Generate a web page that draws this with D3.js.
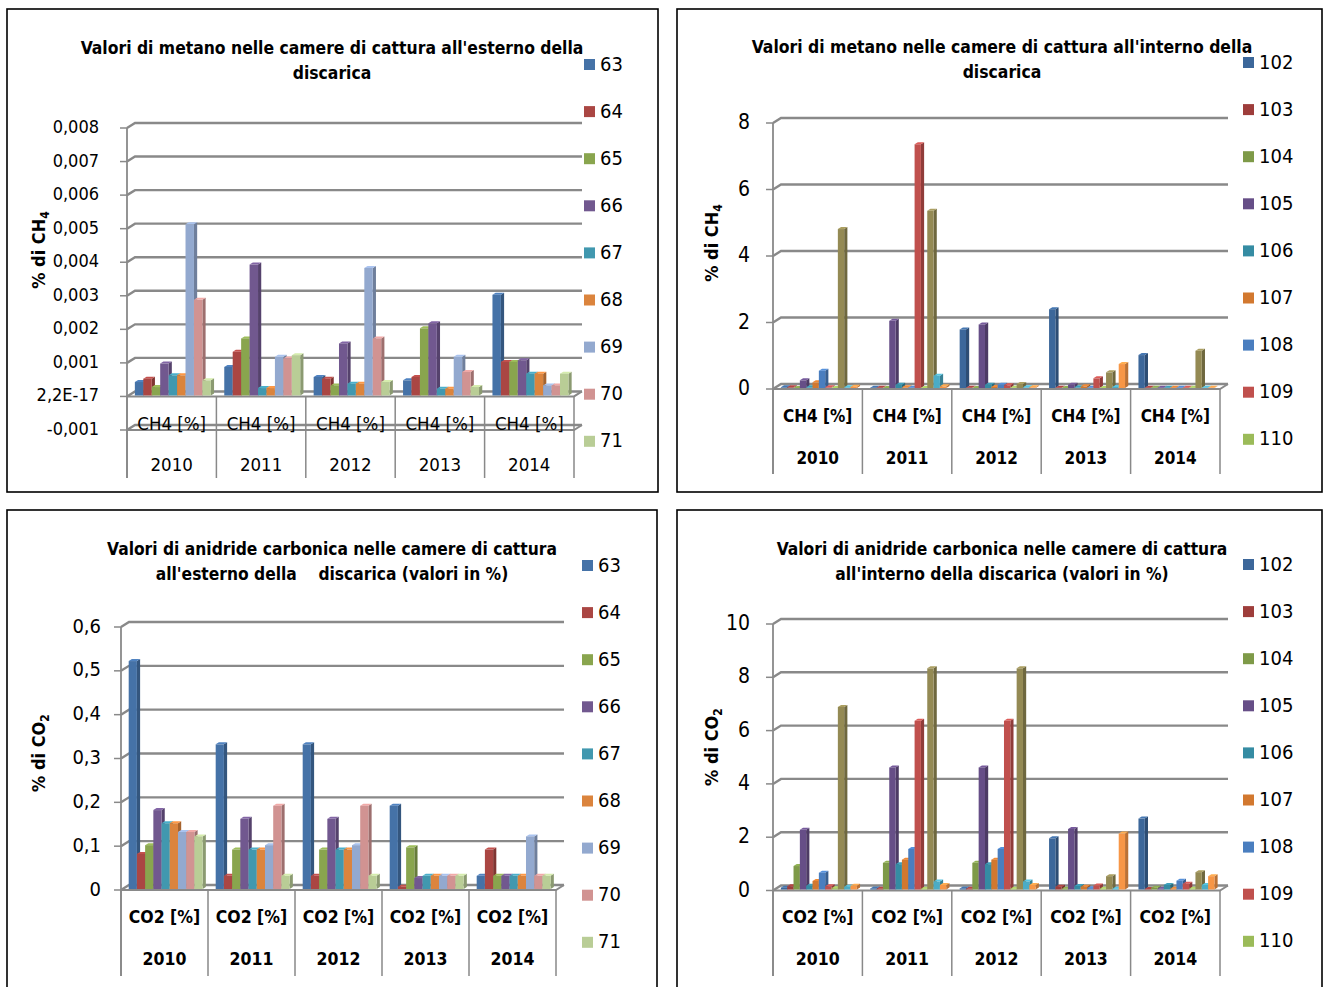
<!DOCTYPE html>
<html>
<head>
<meta charset="utf-8">
<script src="https://cdn.jsdelivr.net/npm/d3@7"></script>
<style>
  body { margin: 0; background: #fff; }
  text { font-family: "DejaVu Sans Condensed", "DejaVu Sans", sans-serif; fill: #000; }
</style>
</head>
<body>
<svg id="chart" width="1327" height="987"></svg>
<script>
// categories
const years = ["2010", "2011", "2012", "2013", "2014"];
const outerPoints = ["63", "64", "65", "66", "67", "68", "69", "70", "71"];
const innerPoints = ["102", "103", "104", "105", "106", "107", "108", "109", "110", "111", "112", "113"];

const outerColors = ["#4572a7", "#aa4643", "#89a54e", "#71588f", "#4198af", "#db843d", "#93a9cf", "#d19392", "#b9cd96"];
const innerColors = ["#3c679a", "#9e3d3b", "#7e9a48", "#664e87", "#358ca3", "#d2782f", "#4a7ebf", "#c0504d", "#9bbb59", "#948a54", "#4bacc6", "#f79646"];

// values, one row per year (series order as in the point lists)
const ch4Outer = [
  [0.0004, 0.0005, 0.00025, 0.00095, 0.0006, 0.0006, 0.0051, 0.00285, 0.00045],
  [0.00085, 0.0013, 0.0017, 0.0039, 0.00022, 0.00022, 0.00115, 0.0011, 0.0012],
  [0.00055, 0.0005, 0.0003, 0.00155, 0.00035, 0.00035, 0.0038, 0.0017, 0.0004],
  [0.00045, 0.00055, 0.002, 0.00215, 0.0002, 0.0002, 0.00115, 0.0007, 0.00025],
  [0.003, 0.001, 0.001, 0.00105, 0.00065, 0.00065, 0.0003, 0.0003, 0.00065]
];
const ch4Inner = [
  [0.02, 0.02, 0, 0.23, 0.02, 0.17, 0.52, 0.02, 0, 4.78, 0.02, 0.04],
  [0.01, 0.01, 0, 2.02, 0.1, 0.02, 0.01, 7.33, 0, 5.33, 0.37, 0.05],
  [1.76, 0.01, 0, 1.91, 0.1, 0.03, 0.1, 0.08, 0.01, 0.12, 0.02, 0.02],
  [2.37, 0.01, 0, 0.1, 0.02, 0.05, 0.01, 0.29, 0, 0.47, 0.03, 0.72],
  [0.99, 0.01, 0.01, 0.01, 0.01, 0.01, 0.01, 0.01, 0.01, 1.12, 0.01, 0.01]
];
const co2Outer = [
  [0.52, 0.08, 0.1, 0.18, 0.15, 0.15, 0.13, 0.13, 0.12],
  [0.33, 0.03, 0.09, 0.16, 0.09, 0.09, 0.1, 0.19, 0.03],
  [0.33, 0.03, 0.09, 0.16, 0.09, 0.09, 0.1, 0.19, 0.03],
  [0.19, 0.005, 0.095, 0.025, 0.03, 0.03, 0.03, 0.03, 0.03],
  [0.03, 0.09, 0.03, 0.03, 0.03, 0.03, 0.12, 0.03, 0.03]
];
const co2Inner = [
  [0.07, 0.12, 0.88, 2.24, 0.14, 0.32, 0.63, 0.12, 0.05, 6.85, 0.1, 0.14],
  [0.04, 0.03, 1.0, 4.58, 0.95, 1.12, 1.52, 6.33, 0.03, 8.3, 0.3, 0.17],
  [0.04, 0.03, 1.0, 4.58, 0.95, 1.12, 1.52, 6.33, 0.03, 8.3, 0.3, 0.17],
  [1.92, 0.1, 0.03, 2.27, 0.13, 0.1, 0.05, 0.15, 0.03, 0.5, 0.03, 2.1],
  [2.66, 0.02, 0.07, 0.03, 0.17, 0.03, 0.33, 0.22, 0.03, 0.65, 0.17, 0.5]
];

// tick values and labels
const ch4OuterTicks = [-0.001, 0, 0.001, 0.002, 0.003, 0.004, 0.005, 0.006, 0.007, 0.008];
const ch4OuterTickLabels = ["-0,001", "2,2E-17", "0,001", "0,002", "0,003", "0,004", "0,005", "0,006", "0,007", "0,008"];
const ch4InnerTicks = [0, 2, 4, 6, 8];
const ch4InnerTickLabels = ["0", "2", "4", "6", "8"];
const co2OuterTicks = [0, 0.1, 0.2, 0.3, 0.4, 0.5, 0.6];
const co2OuterTickLabels = ["0", "0,1", "0,2", "0,3", "0,4", "0,5", "0,6"];
const co2InnerTicks = [0, 2, 4, 6, 8, 10];
const co2InnerTickLabels = ["0", "2", "4", "6", "8", "10"];

const svg = d3.select("#chart");
const gridColor = "#898989";
const dx = 8, dy = 5;   // depth of the back wall

function drawPanel(p) {
  const g = svg.append("g");

  g.append("rect")
    .attr("x", p.box[0]).attr("y", p.box[1])
    .attr("width", p.box[2] - p.box[0]).attr("height", p.box[3] - p.box[1])
    .attr("fill", "#fff").attr("stroke", "#000").attr("stroke-width", 1.6);

  // title: size the first line to the width it has in the picture, reuse for line two
  const titleLines = p.title.map((line, i) => g.append("text")
    .attr("x", p.titleX).attr("y", p.titleY + i * 25)
    .attr("text-anchor", "middle").attr("dominant-baseline", "middle")
    .style("white-space", "pre")
    .attr("font-size", 18).attr("font-weight", "bold")
    .text(line));
  const fs = 18 * p.titleWidth / titleLines[0].node().getComputedTextLength();
  titleLines.forEach(t => t.attr("font-size", fs.toFixed(2)));

  const xGroup = d3.scaleBand().domain(years).range([p.x0, p.x1]);
  const gw = xGroup.bandwidth();
  const xSeries = d3.scaleBand().domain(p.names).range([gw * 0.07, gw * 0.92]);
  const ticks = p.ticks;
  const y = d3.scaleLinear()
    .domain([ticks[0], ticks[ticks.length - 1]])
    .range([p.yBottom, p.yTop]);

  // back wall gridlines + tick marks
  ticks.forEach(t => {
    g.append("path")
      .attr("d", `M${p.x0},${y(t)}L${p.x0 + dx},${y(t) - dy}L${p.x1 + dx},${y(t) - dy}`)
      .attr("fill", "none").attr("stroke", gridColor).attr("stroke-width", 2.4);
    g.append("path")
      .attr("d", `M${p.x0 - 7},${y(t)}L${p.x0},${y(t)}`)
      .attr("stroke", gridColor).attr("stroke-width", 1.5);
  });

  // tick labels
  ticks.forEach((t, i) => {
    g.append("text")
      .attr("x", p.labelRight).attr("y", y(t))
      .attr("text-anchor", "end").attr("dominant-baseline", "middle")
      .attr("font-size", p.tickSize)
      .text(p.tickLabels[i]);
  });

  // floor front edges (at 0 and at the axis minimum)
  const floors = ticks[0] < 0 ? [0, ticks[0]] : [0];
  floors.forEach(f => {
    g.append("path")
      .attr("d", `M${p.x0},${y(f)}L${p.x1},${y(f)}L${p.x1 + dx},${y(f) - dy}`)
      .attr("fill", "none").attr("stroke", gridColor).attr("stroke-width", 2);
  });

  // bars
  const fx = dx * 0.2, fy = dy * 0.2, sx = dx * 0.4, sy = dy * 0.4;
  const w = xSeries.bandwidth();
  years.forEach((yr, gi) => {
    p.names.forEach((n, si) => {
      const v = p.values[gi][si];
      const xl = xGroup(yr) + xSeries(n) + fx;
      const xr = xl + w;
      const yt = y(v) - fy;
      const yb = y(0) - fy;
      const c = d3.color(p.colors[si]);
      const bar = g.append("g");
      bar.append("polygon")
        .attr("points", [[xr, yt], [xr + sx, yt - sy], [xr + sx, yb - sy], [xr, yb]].join(" "))
        .attr("fill", c.darker(0.8));
      bar.append("polygon")
        .attr("points", [[xl, yt], [xl + sx, yt - sy], [xr + sx, yt - sy], [xr, yt]].join(" "))
        .attr("fill", c.brighter(0.4));
      bar.append("rect")
        .attr("x", xl).attr("y", yt)
        .attr("width", w).attr("height", Math.max(0, yb - yt))
        .attr("fill", c);
    });
  });

  // left axis and category separators
  g.append("path")
    .attr("d", `M${p.x0},${p.yTop}L${p.x0},${p.sepBottom}`)
    .attr("stroke", gridColor).attr("stroke-width", 1.8);
  d3.range(years.length + 1).forEach(i => {
    const xb = p.x0 + i * gw;
    g.append("path")
      .attr("d", `M${xb},${y(0)}L${xb},${p.sepBottom}`)
      .attr("stroke", gridColor).attr("stroke-width", 1.5);
  });

  // category labels
  years.forEach(yr => {
    const cx = xGroup(yr) + gw / 2;
    g.append("text")
      .attr("x", cx).attr("y", p.row1)
      .attr("text-anchor", "middle").attr("dominant-baseline", "middle")
      .attr("font-size", p.catSize).attr("font-weight", p.catBold ? "bold" : "normal")
      .text(p.catLabel);
    g.append("text")
      .attr("x", cx).attr("y", p.row2)
      .attr("text-anchor", "middle").attr("dominant-baseline", "middle")
      .attr("font-size", p.catSize).attr("font-weight", p.catBold ? "bold" : "normal")
      .text(yr);
  });

  // y axis title, rotated
  const yTitle = g.append("text")
    .attr("transform", `translate(${p.yTitleX},${p.yTitleY}) rotate(-90)`)
    .attr("text-anchor", "middle").attr("dominant-baseline", "middle")
    .attr("font-size", 18).attr("font-weight", "bold");
  yTitle.append("tspan").text(p.yTitle);
  yTitle.append("tspan").attr("font-size", 12).attr("dy", 5).text(p.yTitleSub);

  // legend (Excel cuts it off after nine entries)
  p.names.slice(0, 9).forEach((n, i) => {
    const ly = p.legendY + i * 47.1;
    g.append("rect")
      .attr("x", p.legendX).attr("y", ly - 5)
      .attr("width", 11).attr("height", 11)
      .attr("fill", p.colors[i]);
    g.append("text")
      .attr("x", p.legendX + 16).attr("y", ly + 1)
      .attr("dominant-baseline", "middle")
      .attr("font-size", 20)
      .text(n);
  });
}

drawPanel({
  box: [7, 9, 658, 492],
  title: ["Valori di metano nelle camere di cattura all'esterno della", "discarica"],
  titleX: 332, titleY: 49, titleWidth: 503,
  names: outerPoints, colors: outerColors, values: ch4Outer,
  ticks: ch4OuterTicks, tickLabels: ch4OuterTickLabels, tickSize: 18,
  x0: 127, x1: 574, yBottom: 430, yTop: 128, labelRight: 99,
  sepBottom: 478, row1: 425, row2: 466, catLabel: "CH4 [%]", catSize: 18.5, catBold: false,
  yTitle: "% di CH", yTitleSub: "4", yTitleX: 40, yTitleY: 250,
  legendX: 584, legendY: 64
});

drawPanel({
  box: [677, 9, 1322, 492],
  title: ["Valori di metano nelle camere di cattura all'interno della", "discarica"],
  titleX: 1002, titleY: 48, titleWidth: 501,
  names: innerPoints, colors: innerColors, values: ch4Inner,
  ticks: ch4InnerTicks, tickLabels: ch4InnerTickLabels, tickSize: 21,
  x0: 773, x1: 1220, yBottom: 389, yTop: 123, labelRight: 750,
  sepBottom: 474, row1: 417, row2: 459, catLabel: "CH4 [%]", catSize: 17, catBold: true,
  yTitle: "% di CH", yTitleSub: "4", yTitleX: 713, yTitleY: 243,
  legendX: 1243, legendY: 62
});

drawPanel({
  box: [7, 510, 657, 1000],
  title: ["Valori di anidride carbonica nelle camere di cattura", "all'esterno della    discarica (valori in %)"],
  titleX: 332, titleY: 550, titleWidth: 450,
  names: outerPoints, colors: outerColors, values: co2Outer,
  ticks: co2OuterTicks, tickLabels: co2OuterTickLabels, tickSize: 20,
  x0: 121, x1: 556, yBottom: 890, yTop: 627, labelRight: 101,
  sepBottom: 976, row1: 918, row2: 960, catLabel: "CO2 [%]", catSize: 17.5, catBold: true,
  yTitle: "% di CO", yTitleSub: "2", yTitleX: 40, yTitleY: 753,
  legendX: 582, legendY: 565
});

drawPanel({
  box: [677, 510, 1322, 1000],
  title: ["Valori di anidride carbonica nelle camere di cattura", "all'interno della discarica (valori in %)"],
  titleX: 1002, titleY: 550, titleWidth: 451,
  names: innerPoints, colors: innerColors, values: co2Inner,
  ticks: co2InnerTicks, tickLabels: co2InnerTickLabels, tickSize: 21,
  x0: 773, x1: 1220, yBottom: 890.5, yTop: 624, labelRight: 750,
  sepBottom: 976, row1: 918, row2: 960, catLabel: "CO2 [%]", catSize: 17.5, catBold: true,
  yTitle: "% di CO", yTitleSub: "2", yTitleX: 713, yTitleY: 747,
  legendX: 1243, legendY: 564
});
</script>
</body>
</html>
